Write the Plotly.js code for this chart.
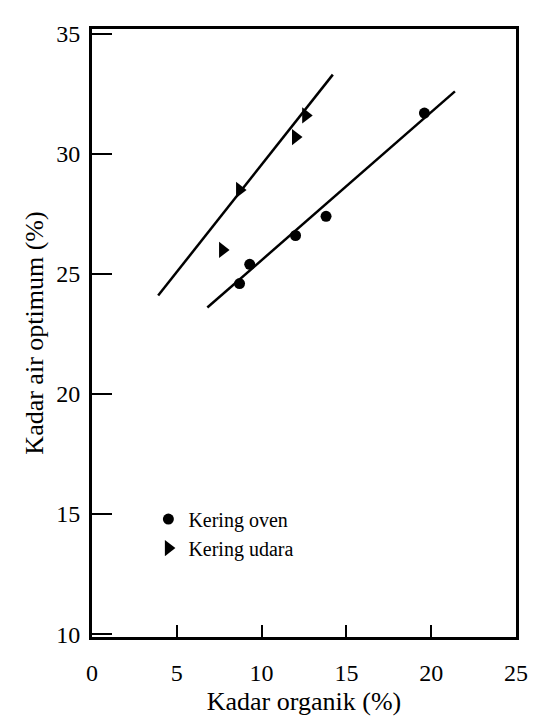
<!DOCTYPE html>
<html>
<head>
<meta charset="utf-8">
<script src="https://cdn.plot.ly/plotly-3.0.1.min.js"></script>
<style>html,body{margin:0;padding:0;background:#fff;}#chart{width:534px;height:719px;}</style>
</head>
<body>
<div id="chart"></div>
<script>
// Kering oven (circles)
const ovenX = [8.7, 9.3, 12.0, 13.8, 19.6];
const ovenY = [24.6, 25.4, 26.6, 27.4, 31.7];
// Kering udara (triangles)
const udaraX = [7.7, 8.7, 12.0, 12.6];
const udaraY = [26.0, 28.5, 30.7, 31.6];
// fitted lines (endpoints)
const ovenFitX = [6.8, 21.4];
const ovenFitY = [23.6, 32.6];
const udaraFitX = [3.9, 14.2];
const udaraFitY = [24.1, 33.3];

const xTicks = [0, 5, 10, 15, 20, 25];
const yTicks = [10, 15, 20, 25, 30, 35];

const serif = '"Liberation Serif", "DejaVu Serif", serif';

const traces = [
  {x: ovenFitX, y: ovenFitY, mode: 'lines', line: {color: '#000', width: 2.5}, showlegend: false, hoverinfo: 'skip'},
  {x: udaraFitX, y: udaraFitY, mode: 'lines', line: {color: '#000', width: 2.5}, showlegend: false, hoverinfo: 'skip'},
  {x: ovenX, y: ovenY, mode: 'markers', name: 'Kering oven',
   marker: {symbol: 'circle', size: 11, color: '#000'}},
  {x: udaraX, y: udaraY, mode: 'markers', name: 'Kering udara',
   marker: {symbol: 'triangle-right', size: 14, color: '#000'}}
];

const layout = {
  width: 534, height: 719,
  margin: {l: 92, r: 18, t: 29, b: 82},
  paper_bgcolor: '#fff', plot_bgcolor: '#fff',
  font: {family: serif, color: '#000', size: 20},
  xaxis: {
    range: [0, 25], tickvals: xTicks, ticktext: xTicks.map(String),
    ticks: 'inside', ticklen: 12, tickwidth: 2, tickcolor: '#000',
    showline: true, linewidth: 3, linecolor: '#000', mirror: true,
    showgrid: false, zeroline: false,
    ticklabelstandoff: 12,
    tickfont: {family: serif, size: 24, color: '#000'},
    title: {text: 'Kadar organik (%)', font: {family: serif, size: 26, color: '#000'}, standoff: 8}
  },
  yaxis: {
    range: [9.88, 35.2], tickvals: yTicks, ticktext: yTicks.map(String),
    ticks: 'inside', ticklen: 20, tickwidth: 2, tickcolor: '#000',
    showline: true, linewidth: 3, linecolor: '#000', mirror: true,
    showgrid: false, zeroline: false,
    ticklabelstandoff: 4,
    tickfont: {family: serif, size: 24, color: '#000'},
    title: {text: 'Kadar air optimum (%)', font: {family: serif, size: 26, color: '#000'}, standoff: 6}
  },
  legend: {
    x: 0.133, y: 0.226, xanchor: 'left', yanchor: 'top',
    bgcolor: 'rgba(0,0,0,0)', borderwidth: 0,
    font: {family: serif, size: 20, color: '#000'},
    itemwidth: 30
  },
  showlegend: true
};

Plotly.newPlot('chart', traces, layout, {displayModeBar: false, staticPlot: true});
</script>
</body>
</html>
